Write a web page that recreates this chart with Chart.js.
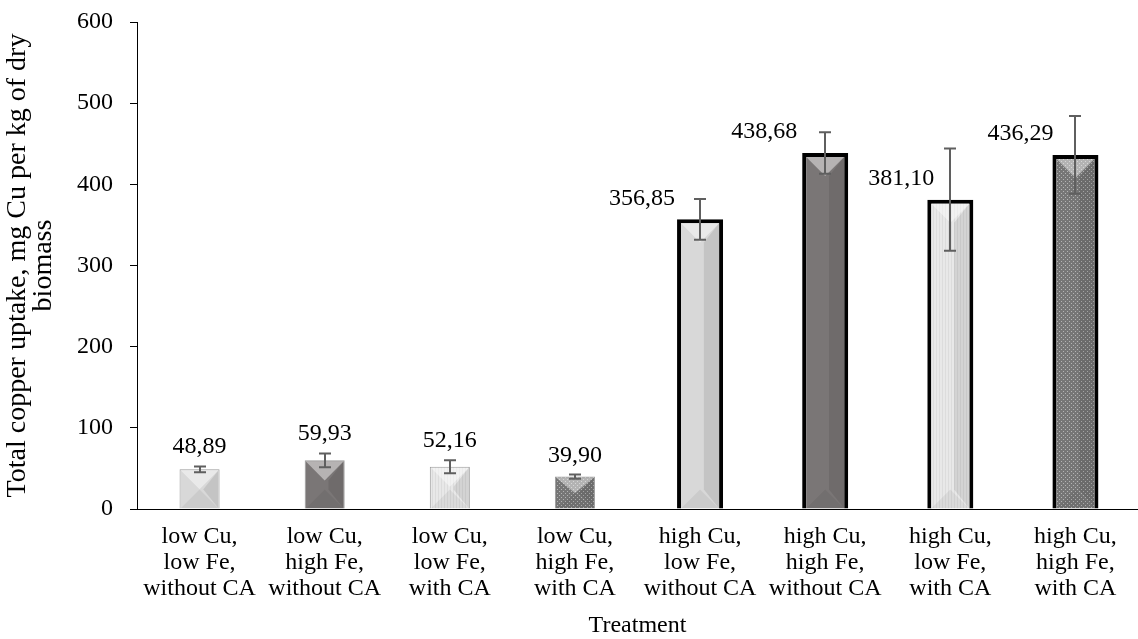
<!DOCTYPE html>
<html><head><meta charset="utf-8">
<script src="https://cdn.jsdelivr.net/npm/chart.js@4/dist/chart.umd.min.js"></script>
<style>html,body{margin:0;padding:0;background:#fff}#wrap{width:1138px;height:639px}</style>
</head><body><div id="wrap"><canvas id="c" width="1138" height="639"></canvas></div>
<script>
// ---- data ----
const categories = [
  ["low Cu,", "low Fe,", "without CA"],
  ["low Cu,", "high Fe,", "without CA"],
  ["low Cu,", "low Fe,", "with CA"],
  ["low Cu,", "high Fe,", "with CA"],
  ["high Cu,", "low Fe,", "without CA"],
  ["high Cu,", "high Fe,", "without CA"],
  ["high Cu,", "low Fe,", "with CA"],
  ["high Cu,", "high Fe,", "with CA"]
];
const uptake = [48.89, 59.93, 52.16, 39.90, 356.85, 438.68, 381.10, 436.29];
const uptakeError = [3.5, 8.6, 8, 2.5, 25, 25.5, 63, 48];
const valueLabels = ["48,89", "59,93", "52,16", "39,90", "356,85", "438,68", "381,10", "436,29"];
const highCu = [false, false, false, false, true, true, true, true];
const yTicks = [0, 100, 200, 300, 400, 500, 600];
const xTitle = "Treatment";
const yTitle = ["Total copper uptake, mg Cu per kg of dry", "biomass"];

// ---- layout / style (not data) ----
const FONT = "'Liberation Serif', 'Times New Roman', serif";
const labelShiftX = [0, 0, 0, 0, 25, 28, 16, 22];

function makePattern(draw, w, h) {
  const c = document.createElement('canvas'); c.width = w; c.height = h;
  const g = c.getContext('2d'); draw(g);
  return g.createPattern(c, 'repeat');
}
const fillLight = '#d8d8d8';
const fillDark = '#7a7676';
const fillLightTex = makePattern(g => {
  g.fillStyle = '#e8e8e8'; g.fillRect(0, 0, 3, 3);
  g.fillStyle = '#dcdcdc'; g.fillRect(0, 0, 1, 3);
}, 3, 3);
const fillDots = makePattern(g => {
  g.fillStyle = '#767676'; g.fillRect(0, 0, 4, 4);
  g.fillStyle = '#b4b4b4'; g.fillRect(1, 1, 1, 1); g.fillRect(3, 3, 1, 1);
}, 4, 4);
const fills = [fillLight, fillDark, fillLightTex, fillDots, fillLight, fillDark, fillLightTex, fillDots];

const lowData = uptake.map((v, i) => highCu[i] ? null : v);
const highData = uptake.map((v, i) => highCu[i] ? v : null);

const decorPlugin = {
  id: 'decor',
  afterDatasetsDraw(chart) {
    const ctx = chart.ctx, ys = chart.scales.y;
    const items = [];
    [0, 1].forEach(d => {
      const meta = chart.getDatasetMeta(d);
      const bw = d === 0 ? 1 : 4;
      meta.data.forEach((el, i) => {
        const v = chart.data.datasets[d].data[i];
        if (v === null || v === undefined) return;
        items.push({ el, i, bw });
      });
    });
    items.forEach(({ el, bw }) => {
      const l = el.x - el.width / 2 + bw, r = el.x + el.width / 2 - bw;
      const t = el.y + bw, b = el.base;
      const w = r - l, h = b - t;
      const bev = Math.min(w / 2, h / 2);
      const cx = (l + r) / 2;
      ctx.save();
      ctx.beginPath(); ctx.rect(l, t, w, h); ctx.clip();
      ctx.fillStyle = 'rgba(255,255,255,0.45)';
      ctx.beginPath(); ctx.moveTo(l, t); ctx.lineTo(r, t); ctx.lineTo(cx, t + bev); ctx.closePath(); ctx.fill();
      ctx.fillStyle = 'rgba(0,0,0,0.09)';
      ctx.beginPath(); ctx.moveTo(r, t); ctx.lineTo(cx + w * 0.1, t + bev); ctx.lineTo(cx + w * 0.1, b - bev); ctx.lineTo(r, b); ctx.closePath(); ctx.fill();
      ctx.fillStyle = 'rgba(0,0,0,0.06)';
      ctx.beginPath(); ctx.moveTo(l, b); ctx.lineTo(r, b); ctx.lineTo(cx, b - bev); ctx.closePath(); ctx.fill();
      ctx.restore();
    });
    ctx.save();
    ctx.strokeStyle = '#5f5f5f'; ctx.lineWidth = 2;
    items.forEach(({ el, i }) => {
      const yt = ys.getPixelForValue(uptake[i] + uptakeError[i]);
      const yb = ys.getPixelForValue(uptake[i] - uptakeError[i]);
      const x = Math.round(el.x);
      ctx.beginPath();
      ctx.moveTo(x, yt); ctx.lineTo(x, yb);
      ctx.moveTo(x - 6, yt); ctx.lineTo(x + 6, yt);
      ctx.moveTo(x - 6, yb); ctx.lineTo(x + 6, yb);
      ctx.stroke();
    });
    ctx.restore();
    ctx.save();
    ctx.fillStyle = '#000';
    ctx.font = '24px ' + FONT;
    items.forEach(({ el, i }) => {
      if (highCu[i]) {
        ctx.textAlign = 'right'; ctx.textBaseline = 'middle';
        ctx.fillText(valueLabels[i], el.x - labelShiftX[i], el.y - 21);
      } else {
        const yt = ys.getPixelForValue(uptake[i] + uptakeError[i]);
        ctx.textAlign = 'center'; ctx.textBaseline = 'alphabetic';
        ctx.fillText(valueLabels[i], el.x, yt - 13);
      }
    });
    ctx.restore();
  },
  afterDraw(chart) {
    const ctx = chart.ctx, a = chart.chartArea;
    ctx.save();
    ctx.fillStyle = '#000';
    ctx.textAlign = 'center'; ctx.textBaseline = 'middle';
    ctx.font = '24px ' + FONT;
    ctx.fillText(xTitle, (a.left + a.right) / 2, 626);
    ctx.font = '28px ' + FONT;
    ctx.translate(0, (a.top + a.bottom) / 2);
    ctx.rotate(-Math.PI / 2);
    ctx.fillText(yTitle[0], 0, 18);
    ctx.fillText(yTitle[1], 0, 44);
    ctx.restore();
  }
};

new Chart(document.getElementById('c'), {
  type: 'bar',
  data: {
    labels: categories,
    datasets: [
      { data: lowData, backgroundColor: fills, borderColor: '#9a9a9a', borderWidth: 1,
        barPercentage: 0.32, categoryPercentage: 1 },
      { data: highData, backgroundColor: fills, borderColor: '#000', borderWidth: 4,
        barPercentage: 0.368, categoryPercentage: 1 }
    ]
  },
  options: {
    responsive: false, animation: false, devicePixelRatio: 1,
    layout: { padding: { top: 0, right: 0, left: 0, bottom: 0 } },
    plugins: { legend: { display: false }, tooltip: { enabled: false } },
    datasets: { bar: { grouped: false } },
    scales: {
      x: {
        grid: { display: false, drawTicks: false },
        border: { display: true, color: '#000', width: 1 },
        ticks: { color: '#000', padding: 15, maxRotation: 0, autoSkip: false,
          font: { family: FONT, size: 24, lineHeight: 1.08 } },
        afterFit(s) { s.height = 130; }
      },
      y: {
        min: 0, max: 600,
        afterBuildTicks(s) { s.ticks = yTicks.map(v => ({ value: v })); },
        grid: { drawOnChartArea: false, drawTicks: true, tickLength: 7, color: '#000' },
        border: { display: true, color: '#000', width: 1 },
        ticks: { color: '#000', padding: 17, font: { family: FONT, size: 24 } },
        afterFit(s) { s.width = 137; s.paddingTop = 22; s.paddingBottom = 0; }
      }
    }
  },
  plugins: [decorPlugin]
});
</script></body></html>
